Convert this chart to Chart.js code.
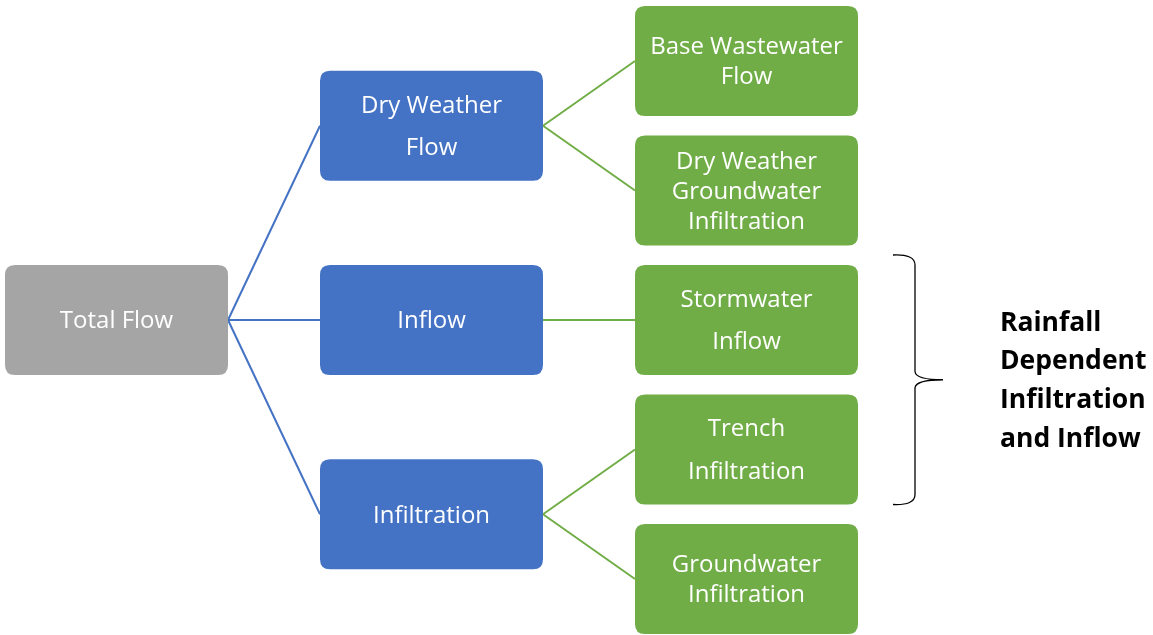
<!DOCTYPE html>
<html>
<head>
<meta charset="utf-8">
<script src="https://cdn.jsdelivr.net/npm/chart.js@4.4.0/dist/chart.umd.min.js"></script>
<style>
  html, body { margin: 0; padding: 0; background: #ffffff; }
  #wrap { width: 1153px; height: 635px; position: relative; }
</style>
</head>
<body>
<div id="wrap"><canvas id="c"></canvas></div>
<script>
// ---- Data: hierarchy of flow components ----
const nodeNames = [
  'Total Flow',
  'Dry Weather Flow',
  'Inflow',
  'Infiltration',
  'Base Wastewater Flow',
  'Dry Weather Groundwater Infiltration',
  'Stormwater Inflow',
  'Trench Infiltration',
  'Groundwater Infiltration'
];
const nodeParents = [null, 0, 0, 0, 1, 1, 2, 3, 3];
const nodeLabelLines = [
  ['Total Flow'],
  ['Dry Weather', 'Flow'],
  ['Inflow'],
  ['Infiltration'],
  ['Base Wastewater', 'Flow'],
  ['Dry Weather', 'Groundwater', 'Infiltration'],
  ['Stormwater', 'Inflow'],
  ['Trench', 'Infiltration'],
  ['Groundwater', 'Infiltration']
];
const groupMembers = [6, 7];
const groupLabelLines = ['Rainfall', 'Dependent', 'Infiltration', 'and Inflow'];

// ---- Styles ----
const levelColors = ['#A5A5A5', '#4472C4', '#70AD47'];
const edgeColors = ['#4472C4', '#70AD47'];
const wideSpacing = { 1: 42, 6: 42, 7: 43 };   // line spacing for some nodes (px)
const BOX_W = 223 / 315;   // box width in column units
const BOX_H = 110 / 129.5; // box height in row units
const FONT = '"Open Sans", "Lato", "DejaVu Sans", sans-serif';

// ---- Derive layout from structure ----
const level = nodeParents.map((p, i) => {
  let l = 0, q = p;
  while (q !== null) { l++; q = nodeParents[q]; }
  return l;
});
const row = new Array(nodeNames.length).fill(null);
let leafIdx = 0;
nodeNames.forEach((n, i) => {
  if (!nodeParents.includes(i)) row[i] = leafIdx++;
});
const maxLevel = Math.max(...level);
for (let l = maxLevel; l >= 0; l--) {
  nodeNames.forEach((n, i) => {
    if (level[i] === l && row[i] === null) {
      const kids = nodeParents.map((p, k) => p === i ? k : -1).filter(k => k >= 0);
      row[i] = kids.reduce((s, k) => s + row[k], 0) / kids.length;
    }
  });
}

const nodePoints = nodeNames.map((n, i) => ({ x: level[i], y: row[i] }));

const edgeDatasets = [];
nodeNames.forEach((n, i) => {
  const p = nodeParents[i];
  if (p === null) return;
  edgeDatasets.push({
    type: 'line',
    data: [
      { x: level[p] + BOX_W / 2, y: row[p] },
      { x: level[i] - BOX_W / 2, y: row[i] }
    ],
    borderColor: edgeColors[level[p]],
    borderWidth: 2,
    pointRadius: 0,
    showLine: true,
    fill: false,
    tension: 0
  });
});

function roundRect(ctx, x, y, w, h, r) {
  ctx.beginPath();
  ctx.moveTo(x + r, y);
  ctx.lineTo(x + w - r, y);
  ctx.quadraticCurveTo(x + w, y, x + w, y + r);
  ctx.lineTo(x + w, y + h - r);
  ctx.quadraticCurveTo(x + w, y + h, x + w - r, y + h);
  ctx.lineTo(x + r, y + h);
  ctx.quadraticCurveTo(x, y + h, x, y + h - r);
  ctx.lineTo(x, y + r);
  ctx.quadraticCurveTo(x, y, x + r, y);
  ctx.closePath();
}

const treePlugin = {
  id: 'tree',
  afterDatasetsDraw(chart) {
    const ctx = chart.ctx;
    const xs = chart.scales.x, ys = chart.scales.y;
    const meta = chart.getDatasetMeta(chart.data.datasets.length - 1);
    ctx.save();
    meta.data.forEach((pt, i) => {
      const cx = pt.x, cy = pt.y;
      const w = Math.abs(xs.getPixelForValue(BOX_W) - xs.getPixelForValue(0));
      const h = Math.abs(ys.getPixelForValue(BOX_H) - ys.getPixelForValue(0));
      ctx.fillStyle = levelColors[level[i]];
      roundRect(ctx, cx - w / 2, cy - h / 2, w, h, 10);
      ctx.fill();
      ctx.fillStyle = '#ffffff';
      ctx.font = '400 24px ' + FONT;
      ctx.textAlign = 'center';
      ctx.textBaseline = 'middle';
      const lines = nodeLabelLines[i];
      const lh = wideSpacing[i] || 30;
      const y0 = cy + 1.5 - (lines.length - 1) * lh / 2;
      lines.forEach((t, k) => ctx.fillText(t, cx, y0 + k * lh));
    });

    // brace around the group
    const top = ys.getPixelForValue(row[groupMembers[0]] - BOX_H / 2) - 10;
    const bot = ys.getPixelForValue(row[groupMembers[groupMembers.length - 1]] + BOX_H / 2);
    const right = xs.getPixelForValue(maxLevel + BOX_W / 2);
    const bx = right + 57;
    const mid = (top + bot) / 2;
    ctx.strokeStyle = '#000000';
    ctx.lineWidth = 1.3;
    ctx.beginPath();
    ctx.moveTo(bx - 22, top);
    ctx.quadraticCurveTo(bx, top - 1, bx, top + 10);
    ctx.lineTo(bx, mid - 8);
    ctx.quadraticCurveTo(bx + 1, mid, bx + 28, mid);
    ctx.quadraticCurveTo(bx + 1, mid, bx, mid + 8);
    ctx.lineTo(bx, bot - 10);
    ctx.quadraticCurveTo(bx, bot + 1, bx - 22, bot);
    ctx.stroke();

    ctx.fillStyle = '#000000';
    ctx.font = '700 26.5px ' + FONT;
    ctx.textAlign = 'left';
    ctx.textBaseline = 'middle';
    const glh = 38.7;
    const gy0 = mid + 1.5 - (groupLabelLines.length - 1) * glh / 2;
    groupLabelLines.forEach((t, k) => ctx.fillText(t, bx + 85, gy0 + k * glh));
    ctx.restore();
  }
};

new Chart(document.getElementById('c'), {
  type: 'scatter',
  data: {
    datasets: [
      ...edgeDatasets,
      {
        type: 'scatter',
        data: nodePoints,
        pointRadius: 0,
        pointHoverRadius: 0,
        backgroundColor: 'rgba(0,0,0,0)'
      }
    ]
  },
  options: {
    responsive: true,
    maintainAspectRatio: false,
    animation: false,
    events: [],
    layout: { padding: 0 },
    plugins: { legend: { display: false }, tooltip: { enabled: false }, title: { display: false } },
    scales: {
      x: { type: 'linear', display: false, min: -0.36984, max: 3.29048 },
      y: { type: 'linear', display: false, reverse: true, min: -0.47104, max: 4.43243 }
    }
  },
  plugins: [treePlugin]
});
</script>
</body>
</html>
